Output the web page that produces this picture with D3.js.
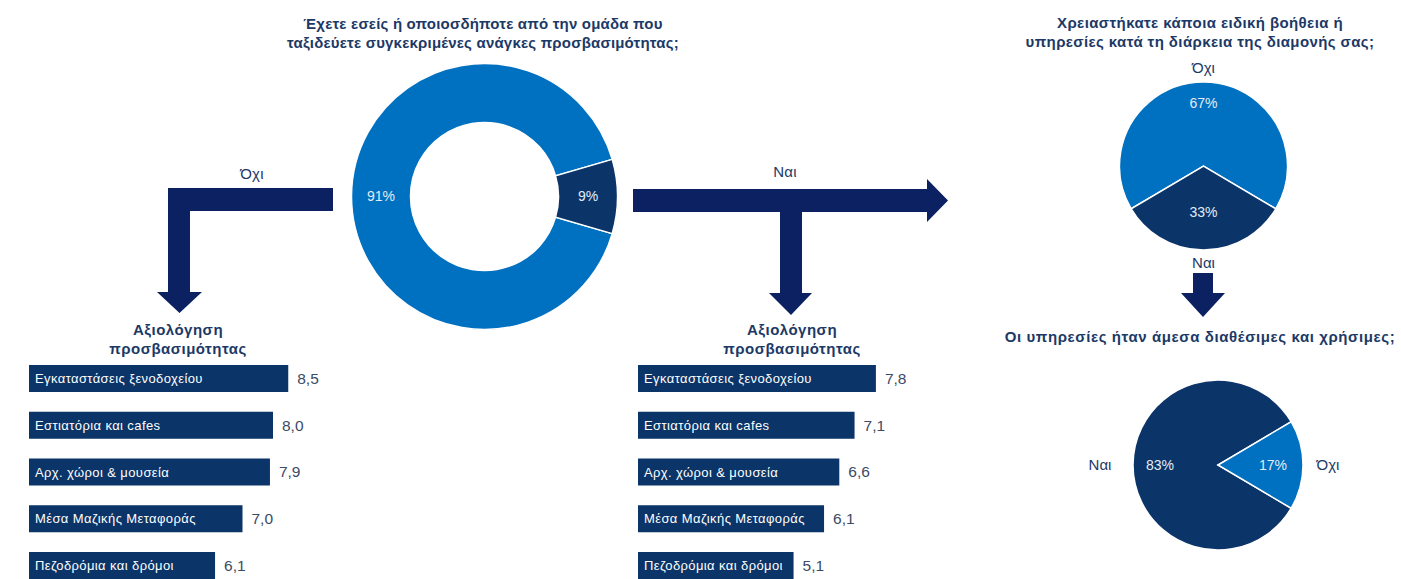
<!DOCTYPE html>
<html>
<head>
<meta charset="utf-8">
<script src="https://cdn.jsdelivr.net/npm/d3@7"></script>
<style>
  body { margin: 0; background: #fff; }
  svg text { font-family: "Liberation Sans", Arial, sans-serif; }
</style>
</head>
<body>
<div id="chart"></div>
<script>
// survey answers
const q1Labels = ["Όχι", "Ναι"];
const q1Values = [91, 9];
const q2Labels = ["Όχι", "Ναι"];
const q2Values = [67, 33];
const q3Labels = ["Ναι", "Όχι"];
const q3Values = [83, 17];

// accessibility ratings
const categories = ["Εγκαταστάσεις ξενοδοχείου", "Εστιατόρια και cafes", "Αρχ. χώροι & μουσεία",
  "Μέσα Μαζικής Μεταφοράς", "Πεζοδρόμια και δρόμοι"];
const ratingNo = [8.5, 8.0, 7.9, 7.0, 6.1];
const ratingYes = [7.8, 7.1, 6.6, 6.1, 5.1];

const lightBlue = "#0070c0", darkBlue = "#0b3468", arrowBlue = "#0b2161",
      textBlue = "#1c3966", valueGrey = "#3b4a66";

var width = 1401, height = 579;

var svg = d3.select("#chart").append("svg")
  .attr("width", width).attr("height", height);

function title(lines, x, y, size, spacing) {
  var t = svg.append("text")
    .attr("x", x).attr("y", y)
    .attr("text-anchor", "middle")
    .style("font-size", size + "px")
    .style("font-weight", "bold")
    .style("letter-spacing", spacing + "px")
    .attr("fill", textBlue);
  lines.forEach(function(l, i) {
    t.append("tspan").attr("x", x).attr("dy", i ? "1.25em" : 0).text(l);
  });
}

function label(txt, x, y, size, color) {
  svg.append("text")
    .attr("x", x).attr("y", y)
    .attr("text-anchor", "middle")
    .attr("dy", "0.35em")
    .style("font-size", size + "px")
    .style("letter-spacing", "0.3px")
    .attr("fill", color || textBlue)
    .text(txt);
}

// ---- pies ----
// the last (small) slice is centred on `mid` (radians, clockwise from 12 o'clock)
function drawPie(labels, values, cfg) {
  var total = d3.sum(values);
  var start = cfg.mid + Math.PI * values[values.length - 1] / total;
  var pie = d3.pie().sort(null).startAngle(start).endAngle(start + 2 * Math.PI);
  var arcs = pie(values);
  var arc = d3.arc().innerRadius(cfg.inner).outerRadius(cfg.outer);
  var g = svg.append("g").attr("transform", "translate(" + cfg.cx + "," + cfg.cy + ")");

  g.selectAll("path").data(arcs).enter().append("path")
    .attr("d", arc)
    .attr("fill", function(d, i) { return cfg.colors[i]; })
    .attr("stroke", "#fff")
    .attr("stroke-width", 1.5);

  g.selectAll(".pct").data(arcs).enter().append("text")
    .attr("class", "pct")
    .attr("transform", function(d, i) {
      var r = cfg.labelR[i];
      var c = d3.arc().innerRadius(r).outerRadius(r).centroid(d);
      return "translate(" + c + ")";
    })
    .attr("text-anchor", "middle")
    .attr("dy", "0.35em")
    .style("font-size", "14px")
    .attr("fill", "#e4ecf6")
    .text(function(d) { return d.value + "%"; });

  if (cfg.outerR) {
    g.selectAll(".cat").data(arcs).enter().append("text")
      .attr("class", "cat")
      .attr("transform", function(d, i) {
        var r = cfg.outerR[i];
        var c = d3.arc().innerRadius(r).outerRadius(r).centroid(d);
        return "translate(" + c + ")";
      })
      .attr("text-anchor", "middle")
      .attr("dy", "0.35em")
      .style("font-size", "15px")
      .attr("fill", textBlue)
      .text(function(d, i) { return labels[i]; });
  }
}

title(["Έχετε εσείς ή οποιοσδήποτε από την ομάδα που", "ταξιδεύετε συγκεκριμένες ανάγκες προσβασιμότητας;"], 483, 29, 15, 0.2);
drawPie(q1Labels, q1Values, {cx: 484.5, cy: 196.5, inner: 74, outer: 133, mid: Math.PI / 2,
  colors: [lightBlue, darkBlue], labelR: [103.5, 103.5]});

title(["Χρειαστήκατε κάποια ειδική βοήθεια ή", "υπηρεσίες κατά τη διάρκεια της διαμονής σας;"], 1200, 28, 15, 0.4);
drawPie(q2Labels, q2Values, {cx: 1203.5, cy: 166, inner: 0, outer: 84, mid: Math.PI,
  colors: [lightBlue, darkBlue], labelR: [63, 46], outerR: [98, 97]});

title(["Οι υπηρεσίες ήταν άμεσα διαθέσιμες και χρήσιμες;"], 1200, 342, 15, 0.6);
drawPie(q3Labels, q3Values, {cx: 1218, cy: 465, inner: 0, outer: 85, mid: Math.PI / 2,
  colors: [darkBlue, lightBlue], labelR: [58, 55], outerR: [118, 110]});

// ---- arrows ----
var arrows = [
  [[333,188],[168,188],[168,292],[157,292],[179.5,313],[202,292],[190,292],[190,211],[333,211]],
  [[633,189],[927,189],[927,179],[948,200.5],[927,222],[927,212],[802,212],[802,293],[812,293],
   [791,315],[769,293],[780,293],[780,212],[633,212]],
  [[1193,273],[1213,273],[1213,293],[1225,293],[1203,317],[1181,293],[1193,293]]
];
svg.selectAll(".arrow").data(arrows).enter().append("path")
  .attr("class", "arrow")
  .attr("d", function(d) { return d3.line()(d) + "Z"; })
  .attr("fill", arrowBlue);

label("Όχι", 252, 174, 15);
label("Ναι", 785, 172, 15);

// ---- bar charts ----
var x = d3.scaleLinear().domain([0, 10]).range([0, 305]);
var y = d3.scaleBand().domain(categories).range([365, 579]).paddingInner(0.4225).paddingOuter(0);

function bars(values, x0, headX) {
  title(["Αξιολόγηση", "προσβασιμότητας"], headX, 335, 15, 0.5);
  var g = svg.append("g").attr("transform", "translate(" + x0 + ",0)");
  var rows = g.selectAll(".row").data(categories).enter().append("g");
  rows.append("rect")
    .attr("x", 0)
    .attr("y", function(d) { return y(d); })
    .attr("width", function(d, i) { return x(values[i]); })
    .attr("height", y.bandwidth())
    .attr("fill", darkBlue);
  rows.append("text")
    .attr("x", 6)
    .attr("y", function(d) { return y(d) + y.bandwidth() / 2; })
    .attr("dy", "0.35em")
    .style("font-size", "13px")
    .style("letter-spacing", "0.4px")
    .attr("fill", "#fff")
    .text(function(d) { return d; });
  rows.append("text")
    .attr("x", function(d, i) { return x(values[i]) + 9; })
    .attr("y", function(d) { return y(d) + y.bandwidth() / 2; })
    .attr("dy", "0.35em")
    .style("font-size", "15.5px")
    .attr("fill", valueGrey)
    .text(function(d, i) { return d3.format(".1f")(values[i]).replace(".", ","); });
}

bars(ratingNo, 29, 178);
bars(ratingYes, 638, 792);
</script>
</body>
</html>
